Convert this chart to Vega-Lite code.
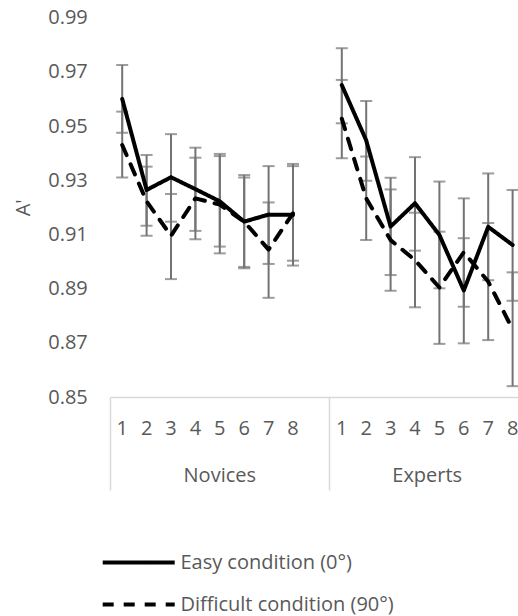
{
  "$schema": "https://vega.github.io/schema/vega-lite/v6.json",
  "autosize": {"type": "none"},
  "padding": {"left": 110, "top": 17.6, "right": 0, "bottom": 219},
  "width": 408,
  "height": 379.4,
  "background": "white",
  "config": {
    "view": {"stroke": null},
    "font": "Open Sans",
    "axis": {"labelFont": "Open Sans", "titleFont": "Open Sans", "labelColor": "#595959", "titleColor": "#595959", "grid": false}
  },
  "data": {"values": [
    {"group": "Novices", "cat": "N1", "cond": "Easy condition (0°)", "mean": 0.9600, "lo": 0.9475, "hi": 0.9725},
    {"group": "Novices", "cat": "N2", "cond": "Easy condition (0°)", "mean": 0.9264, "lo": 0.9132, "hi": 0.9393},
    {"group": "Novices", "cat": "N3", "cond": "Easy condition (0°)", "mean": 0.9311, "lo": 0.9147, "hi": 0.9470},
    {"group": "Novices", "cat": "N4", "cond": "Easy condition (0°)", "mean": 0.9267, "lo": 0.9113, "hi": 0.9420},
    {"group": "Novices", "cat": "N5", "cond": "Easy condition (0°)", "mean": 0.9222, "lo": 0.9055, "hi": 0.9397},
    {"group": "Novices", "cat": "N6", "cond": "Easy condition (0°)", "mean": 0.9147, "lo": 0.8975, "hi": 0.9319},
    {"group": "Novices", "cat": "N7", "cond": "Easy condition (0°)", "mean": 0.9173, "lo": 0.8991, "hi": 0.9352},
    {"group": "Novices", "cat": "N8", "cond": "Easy condition (0°)", "mean": 0.9172, "lo": 0.8985, "hi": 0.9360},
    {"group": "Experts", "cat": "E1", "cond": "Easy condition (0°)", "mean": 0.9651, "lo": 0.9510, "hi": 0.9787},
    {"group": "Experts", "cat": "E2", "cond": "Easy condition (0°)", "mean": 0.9447, "lo": 0.9298, "hi": 0.9592},
    {"group": "Experts", "cat": "E3", "cond": "Easy condition (0°)", "mean": 0.9129, "lo": 0.8950, "hi": 0.9309},
    {"group": "Experts", "cat": "E4", "cond": "Easy condition (0°)", "mean": 0.9215, "lo": 0.9040, "hi": 0.9385},
    {"group": "Experts", "cat": "E5", "cond": "Easy condition (0°)", "mean": 0.9098, "lo": 0.8901, "hi": 0.9295},
    {"group": "Experts", "cat": "E6", "cond": "Easy condition (0°)", "mean": 0.8893, "lo": 0.8698, "hi": 0.9086},
    {"group": "Experts", "cat": "E7", "cond": "Easy condition (0°)", "mean": 0.9128, "lo": 0.8931, "hi": 0.9325},
    {"group": "Experts", "cat": "E8", "cond": "Easy condition (0°)", "mean": 0.9061, "lo": 0.8855, "hi": 0.9264},
    {"group": "Novices", "cat": "N1", "cond": "Difficult condition (90°)", "mean": 0.9430, "lo": 0.9310, "hi": 0.9553},
    {"group": "Novices", "cat": "N2", "cond": "Difficult condition (90°)", "mean": 0.9222, "lo": 0.9095, "hi": 0.9350},
    {"group": "Novices", "cat": "N3", "cond": "Difficult condition (90°)", "mean": 0.9095, "lo": 0.8935, "hi": 0.9249},
    {"group": "Novices", "cat": "N4", "cond": "Difficult condition (90°)", "mean": 0.9233, "lo": 0.9082, "hi": 0.9383},
    {"group": "Novices", "cat": "N5", "cond": "Difficult condition (90°)", "mean": 0.9210, "lo": 0.9030, "hi": 0.9389},
    {"group": "Novices", "cat": "N6", "cond": "Difficult condition (90°)", "mean": 0.9147, "lo": 0.8980, "hi": 0.9310},
    {"group": "Novices", "cat": "N7", "cond": "Difficult condition (90°)", "mean": 0.9044, "lo": 0.8866, "hi": 0.9218},
    {"group": "Novices", "cat": "N8", "cond": "Difficult condition (90°)", "mean": 0.9178, "lo": 0.9003, "hi": 0.9352},
    {"group": "Experts", "cat": "E1", "cond": "Difficult condition (90°)", "mean": 0.9527, "lo": 0.9381, "hi": 0.9670},
    {"group": "Experts", "cat": "E2", "cond": "Difficult condition (90°)", "mean": 0.9233, "lo": 0.9079, "hi": 0.9387},
    {"group": "Experts", "cat": "E3", "cond": "Difficult condition (90°)", "mean": 0.9079, "lo": 0.8892, "hi": 0.9266},
    {"group": "Experts", "cat": "E4", "cond": "Difficult condition (90°)", "mean": 0.9005, "lo": 0.8831, "hi": 0.9180},
    {"group": "Experts", "cat": "E5", "cond": "Difficult condition (90°)", "mean": 0.8904, "lo": 0.8696, "hi": 0.9110},
    {"group": "Experts", "cat": "E6", "cond": "Difficult condition (90°)", "mean": 0.9034, "lo": 0.8833, "hi": 0.9233},
    {"group": "Experts", "cat": "E7", "cond": "Difficult condition (90°)", "mean": 0.8926, "lo": 0.8710, "hi": 0.9142},
    {"group": "Experts", "cat": "E8", "cond": "Difficult condition (90°)", "mean": 0.8750, "lo": 0.8540, "hi": 0.8960}
  ]},
  "resolve": {"axis": {"x": "independent"}},
  "layer": [
    {
      "mark": {"type": "rule", "color": "#737373", "strokeWidth": 2},
      "encoding": {
        "x": {"field": "cat", "type": "nominal",
          "scale": {"type": "band", "domain": ["N1","N2","N3","N4","N5","N6","N7","N8","gap","E1","E2","E3","E4","E5","E6","E7","E8"], "range": [0, 414.8], "paddingInner": 0, "paddingOuter": 0},
          "axis": {"orient": "bottom", "title": null, "values": ["N1","N2","N3","N4","N5","N6","N7","N8","E1","E2","E3","E4","E5","E6","E7","E8"],
            "labelExpr": "slice(datum.value, 1)", "labelAngle": 0, "labelFontSize": 20, "labelPadding": 21,
            "ticks": false, "domain": true, "domainColor": "#d9d9d9", "domainWidth": 1.5}},
        "y": {"field": "lo", "type": "quantitative",
          "scale": {"domain": [0.85, 0.99], "nice": false, "zero": false},
          "axis": {"title": "A'", "values": [0.85, 0.87, 0.89, 0.91, 0.93, 0.95, 0.97, 0.99], "format": ".2f",
            "labelFontSize": 20, "titleFontSize": 20, "titleFontWeight": "normal", "labelPadding": 22.7, "titlePadding": 14,
            "ticks": false, "domain": false}},
        "y2": {"field": "hi"}
      }
    },
    {
      "mark": {"type": "tick", "color": "#737373", "size": 12, "thickness": 2},
      "encoding": {
        "x": {"field": "cat", "type": "nominal",
          "axis": {"orient": "bottom", "title": null, "values": ["N1", "E1"], "bandPosition": 0, "labels": false, "domain": false,
            "ticks": true, "tickSize": 93, "tickColor": "#d9d9d9", "tickWidth": 1.5}},
        "y": {"field": "lo", "type": "quantitative"}
      }
    },
    {
      "mark": {"type": "tick", "color": "#737373", "size": 12, "thickness": 2},
      "encoding": {
        "x": {"field": "cat", "type": "nominal",
          "axis": {"orient": "bottom", "title": null, "values": ["N5", "E5"], "ticks": false, "domain": false, "labelAngle": 0,
            "labelExpr": "datum.value == 'N5' ? 'Novices' : 'Experts'", "labelFontSize": 20, "labelPadding": 68,
            "labelOffset": {"condition": {"test": "datum.value == 'E5'", "value": -12.2}, "value": 0}}},
        "y": {"field": "hi", "type": "quantitative"}
      }
    },
    {
      "mark": {"type": "line", "color": "black", "strokeWidth": 4, "strokeCap": "round", "strokeJoin": "round"},
      "encoding": {
        "x": {"field": "cat", "type": "nominal", "axis": null},
        "y": {"field": "mean", "type": "quantitative"},
        "detail": {"field": "group"},
        "strokeDash": {"field": "cond", "type": "nominal",
          "scale": {"domain": ["Easy condition (0°)", "Difficult condition (90°)"], "range": [[1, 0], [11, 10]]},
          "legend": {"title": null, "orient": "none", "legendX": 14.7, "legendY": 531, "direction": "vertical", "padding": 0,
            "symbolType": "M-3,0H3", "symbolSize": 576, "symbolStrokeWidth": 4, "symbolStrokeColor": "black",
            "labelFont": "Open Sans", "labelFontSize": 20, "labelColor": "#595959", "labelOffset": 27.7, "labelLimit": 0, "rowPadding": 18}}
      }
    }
  ]
}
